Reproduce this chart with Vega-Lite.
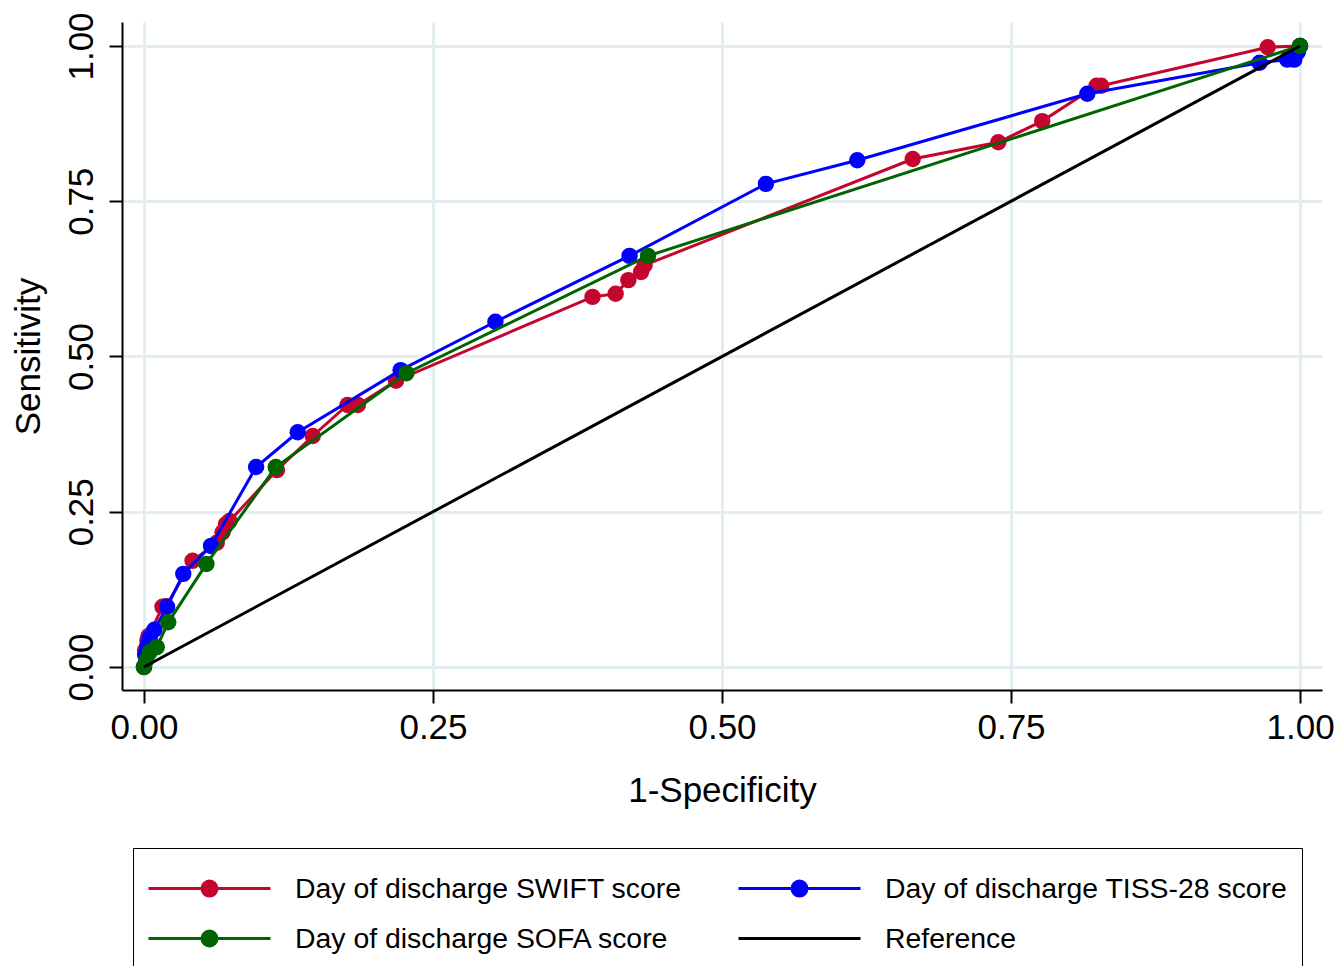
{
  "$schema": "https://vega.github.io/schema/vega-lite/v6.json",
  "autosize": "none",
  "width": 1200,
  "height": 668,
  "padding": {"left": 122, "top": 22, "right": 20, "bottom": 276},
  "background": "white",
  "config": {
    "view": {"stroke": null},
    "font": "Liberation Sans",
    "axis": {
      "domainColor": "black", "domainWidth": 2,
      "tickColor": "black", "tickWidth": 2, "tickSize": 13,
      "gridColor": "#e3eef0", "gridWidth": 3,
      "labelFont": "Liberation Sans", "labelFontSize": 35, "labelColor": "black",
      "titleFont": "Liberation Sans", "titleFontSize": 35, "titleFontWeight": "normal", "titleColor": "black"
    }
  },
  "datasets": {
    "roc": [
      {"series": "Day of discharge SWIFT score", "fpr": 0.0, "sens": 0.0},
      {"series": "Day of discharge SWIFT score", "fpr": 0.001, "sens": 0.027},
      {"series": "Day of discharge SWIFT score", "fpr": 0.003, "sens": 0.043},
      {"series": "Day of discharge SWIFT score", "fpr": 0.004, "sens": 0.05},
      {"series": "Day of discharge SWIFT score", "fpr": 0.016, "sens": 0.097},
      {"series": "Day of discharge SWIFT score", "fpr": 0.019, "sens": 0.098},
      {"series": "Day of discharge SWIFT score", "fpr": 0.042, "sens": 0.171},
      {"series": "Day of discharge SWIFT score", "fpr": 0.063, "sens": 0.2},
      {"series": "Day of discharge SWIFT score", "fpr": 0.068, "sens": 0.217},
      {"series": "Day of discharge SWIFT score", "fpr": 0.071, "sens": 0.23},
      {"series": "Day of discharge SWIFT score", "fpr": 0.074, "sens": 0.235},
      {"series": "Day of discharge SWIFT score", "fpr": 0.115, "sens": 0.317},
      {"series": "Day of discharge SWIFT score", "fpr": 0.146, "sens": 0.372},
      {"series": "Day of discharge SWIFT score", "fpr": 0.176, "sens": 0.422},
      {"series": "Day of discharge SWIFT score", "fpr": 0.185, "sens": 0.422},
      {"series": "Day of discharge SWIFT score", "fpr": 0.218, "sens": 0.461},
      {"series": "Day of discharge SWIFT score", "fpr": 0.388, "sens": 0.596},
      {"series": "Day of discharge SWIFT score", "fpr": 0.408, "sens": 0.601},
      {"series": "Day of discharge SWIFT score", "fpr": 0.419, "sens": 0.623},
      {"series": "Day of discharge SWIFT score", "fpr": 0.43, "sens": 0.636},
      {"series": "Day of discharge SWIFT score", "fpr": 0.433, "sens": 0.647},
      {"series": "Day of discharge SWIFT score", "fpr": 0.665, "sens": 0.818},
      {"series": "Day of discharge SWIFT score", "fpr": 0.739, "sens": 0.845},
      {"series": "Day of discharge SWIFT score", "fpr": 0.777, "sens": 0.879},
      {"series": "Day of discharge SWIFT score", "fpr": 0.824, "sens": 0.936},
      {"series": "Day of discharge SWIFT score", "fpr": 0.828, "sens": 0.936},
      {"series": "Day of discharge SWIFT score", "fpr": 0.972, "sens": 0.998},
      {"series": "Day of discharge SWIFT score", "fpr": 1.0, "sens": 1.0},
      {"series": "Day of discharge TISS-28 score", "fpr": 0.0, "sens": 0.0},
      {"series": "Day of discharge TISS-28 score", "fpr": 0.001, "sens": 0.02},
      {"series": "Day of discharge TISS-28 score", "fpr": 0.003, "sens": 0.035},
      {"series": "Day of discharge TISS-28 score", "fpr": 0.005, "sens": 0.047},
      {"series": "Day of discharge TISS-28 score", "fpr": 0.009, "sens": 0.06},
      {"series": "Day of discharge TISS-28 score", "fpr": 0.02, "sens": 0.097},
      {"series": "Day of discharge TISS-28 score", "fpr": 0.034, "sens": 0.15},
      {"series": "Day of discharge TISS-28 score", "fpr": 0.058, "sens": 0.195},
      {"series": "Day of discharge TISS-28 score", "fpr": 0.097, "sens": 0.322},
      {"series": "Day of discharge TISS-28 score", "fpr": 0.133, "sens": 0.378},
      {"series": "Day of discharge TISS-28 score", "fpr": 0.222, "sens": 0.478},
      {"series": "Day of discharge TISS-28 score", "fpr": 0.304, "sens": 0.556},
      {"series": "Day of discharge TISS-28 score", "fpr": 0.42, "sens": 0.662},
      {"series": "Day of discharge TISS-28 score", "fpr": 0.538, "sens": 0.778},
      {"series": "Day of discharge TISS-28 score", "fpr": 0.617, "sens": 0.816},
      {"series": "Day of discharge TISS-28 score", "fpr": 0.816, "sens": 0.923},
      {"series": "Day of discharge TISS-28 score", "fpr": 0.965, "sens": 0.973},
      {"series": "Day of discharge TISS-28 score", "fpr": 0.989, "sens": 0.978},
      {"series": "Day of discharge TISS-28 score", "fpr": 0.995, "sens": 0.978},
      {"series": "Day of discharge TISS-28 score", "fpr": 0.998, "sens": 0.99},
      {"series": "Day of discharge TISS-28 score", "fpr": 1.0, "sens": 1.0},
      {"series": "Day of discharge SOFA score", "fpr": 0.0, "sens": 0.0},
      {"series": "Day of discharge SOFA score", "fpr": 0.002, "sens": 0.011},
      {"series": "Day of discharge SOFA score", "fpr": 0.005, "sens": 0.024},
      {"series": "Day of discharge SOFA score", "fpr": 0.011, "sens": 0.032},
      {"series": "Day of discharge SOFA score", "fpr": 0.021, "sens": 0.072},
      {"series": "Day of discharge SOFA score", "fpr": 0.054, "sens": 0.166},
      {"series": "Day of discharge SOFA score", "fpr": 0.114, "sens": 0.322},
      {"series": "Day of discharge SOFA score", "fpr": 0.227, "sens": 0.473},
      {"series": "Day of discharge SOFA score", "fpr": 0.436, "sens": 0.662},
      {"series": "Day of discharge SOFA score", "fpr": 1.0, "sens": 1.0},
      {"series": "Reference", "fpr": 0.0, "sens": 0.0},
      {"series": "Reference", "fpr": 1.0, "sens": 1.0}
    ]
  },
  "encoding": {
    "x": {
      "field": "fpr", "type": "quantitative", "title": "1-Specificity",
      "scale": {"domain": [-0.019, 1.019], "nice": false, "zero": false},
      "axis": {"values": [0, 0.25, 0.5, 0.75, 1], "format": ".2f", "labelPadding": 7, "titlePadding": 28, "labelFlush": false}
    },
    "y": {
      "field": "sens", "type": "quantitative", "title": "Sensitivity",
      "scale": {"domain": [-0.037, 1.0386], "nice": false, "zero": false},
      "axis": {"values": [0, 0.25, 0.5, 0.75, 1], "format": ".2f", "labelAngle": -90, "labelAlign": "center", "labelBaseline": "alphabetic", "labelPadding": 17, "titlePadding": 18, "labelFlush": false}
    },
    "color": {
      "field": "series", "type": "nominal",
      "scale": {
        "domain": ["Day of discharge SWIFT score", "Day of discharge TISS-28 score", "Day of discharge SOFA score", "Reference"],
        "range": ["#c4062f", "#0000ff", "#006400", "#000000"]
      },
      "legend": {
        "title": null, "orient": "none", "legendX": 11, "legendY": 826,
        "columns": 2, "columnPadding": 50, "rowPadding": 9,
        "direction": "horizontal",
        "padding": 14, "strokeColor": "black", "fillColor": "white",
        "symbolSize": 2500, "symbolStrokeWidth": 3,
        "labelFont": "Liberation Sans", "labelFontSize": 28.4, "labelColor": "black",
        "labelOffset": 95, "labelLimit": 600,
        "encode": {
          "symbols": {
            "update": {
              "shape": {"signal": "datum.value === 'Reference' ? 'M-1,0L3.88,0' : 'M-1,0L3.88,0M1.14,0A0.3,0.3 0 1,1 1.74,0A0.3,0.3 0 1,1 1.14,0Z'"},
              "fill": {"signal": "datum.value === 'Reference' ? 'transparent' : scale('color', datum.value)"},
              "stroke": {"signal": "scale('color', datum.value)"},
              "strokeWidth": {"value": 3},
              "size": {"value": 2500},
              "opacity": {"value": 1}
            }
          }
        }
      }
    },
    "order": {"value": null}
  },
  "layer": [
    {"data": {"name": "roc"}, "transform": [{"filter": "datum.series === 'Day of discharge SWIFT score'"}], "mark": {"type": "line", "strokeWidth": 3}},
    {"data": {"name": "roc"}, "transform": [{"filter": "datum.series === 'Day of discharge SWIFT score'"}], "mark": {"type": "point", "shape": "circle", "filled": true, "opacity": 1, "size": 270}},
    {"data": {"name": "roc"}, "transform": [{"filter": "datum.series === 'Day of discharge TISS-28 score'"}], "mark": {"type": "line", "strokeWidth": 3}},
    {"data": {"name": "roc"}, "transform": [{"filter": "datum.series === 'Day of discharge TISS-28 score'"}], "mark": {"type": "point", "shape": "circle", "filled": true, "opacity": 1, "size": 270}},
    {"data": {"name": "roc"}, "transform": [{"filter": "datum.series === 'Day of discharge SOFA score'"}], "mark": {"type": "line", "strokeWidth": 3}},
    {"data": {"name": "roc"}, "transform": [{"filter": "datum.series === 'Day of discharge SOFA score'"}], "mark": {"type": "point", "shape": "circle", "filled": true, "opacity": 1, "size": 270}},
    {"data": {"name": "roc"}, "transform": [{"filter": "datum.series === 'Reference'"}], "mark": {"type": "line", "strokeWidth": 3}}
  ]
}
